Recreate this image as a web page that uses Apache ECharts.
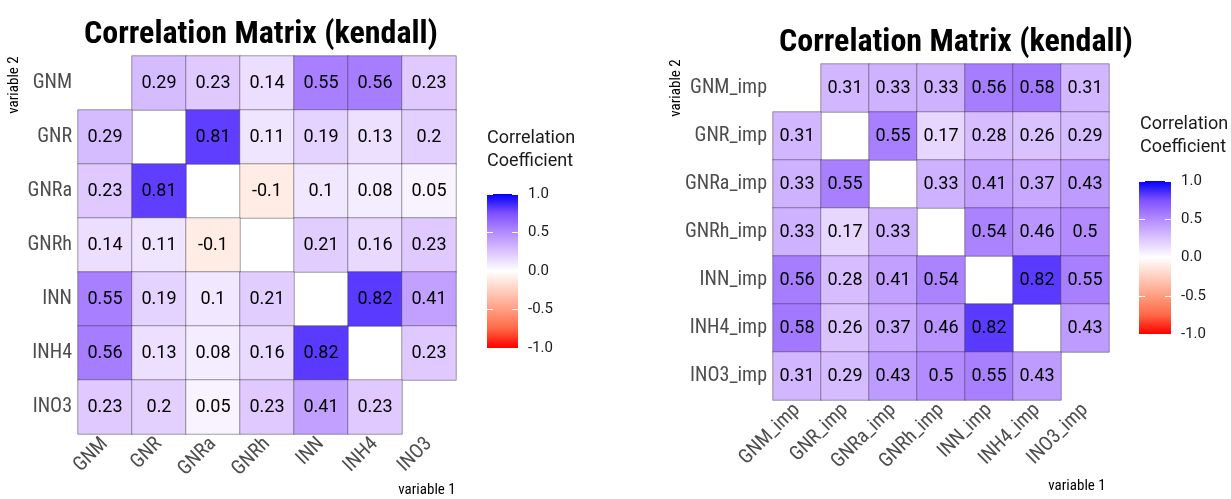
<!DOCTYPE html>
<html>
<head>
<meta charset="utf-8">
<script src="https://cdn.jsdelivr.net/npm/echarts@6/dist/echarts.min.js"></script>
<style>
html,body{margin:0;padding:0;background:#fff;}
#c{width:1231px;height:499px;}
</style>
</head>
<body>
<div id="c"></div>
<script>
// ---- data ----
const varsLeft = ['GNM','GNR','GNRa','GNRh','INN','INH4','INO3'];
const varsRight = ['GNM_imp','GNR_imp','GNRa_imp','GNRh_imp','INN_imp','INH4_imp','INO3_imp'];
// rows = variable 2 (top to bottom), columns = variable 1 (left to right); null = diagonal
const corrLeft = [
  [null, 0.29, 0.23, 0.14, 0.55, 0.56, 0.23],
  [0.29, null, 0.81, 0.11, 0.19, 0.13, 0.2 ],
  [0.23, 0.81, null, -0.1, 0.1,  0.08, 0.05],
  [0.14, 0.11, -0.1, null, 0.21, 0.16, 0.23],
  [0.55, 0.19, 0.1,  0.21, null, 0.82, 0.41],
  [0.56, 0.13, 0.08, 0.16, 0.82, null, 0.23],
  [0.23, 0.2,  0.05, 0.23, 0.41, 0.23, null]
];
const corrRight = [
  [null, 0.31, 0.33, 0.33, 0.56, 0.58, 0.31],
  [0.31, null, 0.55, 0.17, 0.28, 0.26, 0.29],
  [0.33, 0.55, null, 0.33, 0.41, 0.37, 0.43],
  [0.33, 0.17, 0.33, null, 0.54, 0.46, 0.5 ],
  [0.56, 0.28, 0.41, 0.54, null, 0.82, 0.55],
  [0.58, 0.26, 0.37, 0.46, 0.82, null, 0.43],
  [0.31, 0.29, 0.43, 0.5,  0.55, 0.43, null]
];
const legendTicks = [-1, -0.5, 0, 0.5, 1];
const titleText = 'Correlation Matrix (kendall)';
const legendTitle = 'Correlation\nCoefficient';

// ---- style ----
const scaleColors = ['#ff0000','#ff6846','#ff9e81','#ffcfbf','#ffffff','#dcc4ff','#b38bff','#7e51ff','#0000ff'];
const condFont = "'Liberation Sans Narrow', 'Roboto Condensed', 'DejaVu Sans Condensed', Roboto, sans-serif";
const axisGrey = '#4d4d4d';

function toTriples(mat){
  const out = [];
  mat.forEach((row, r) => row.forEach((v, c) => { if (v !== null) out.push([c, r, v]); }));
  return out;
}

const chart = echarts.init(document.getElementById('c'), null, {renderer:'canvas'});

const panels = [
  {vars: varsLeft, mat: corrLeft, grid:{left:78, top:56, width:378, height:378},
   title:{x:256, y:30}, v2:{x:14, y:85}, v1:{x:427, y:490},
   lt:{x:487, y:127}, bar:{left:487, top:194, width:31, height:154}},
  {vars: varsRight, mat: corrRight, grid:{left:773, top:64, width:336, height:336},
   title:{x:951, y:38}, v2:{x:676, y:88}, v1:{x:1077, y:486},
   lt:{x:1140, y:113}, bar:{left:1139, top:181, width:32, height:153}}
];

const option = {
  animation:false,
  backgroundColor:'#fff',
  title: [], grid: [], xAxis: [], yAxis: [], series: [], visualMap: [], graphic: []
};

panels.forEach((p, i) => {
  option.title.push({
    text: titleText, left: p.title.x, top: p.title.y, textAlign:'center', textVerticalAlign:'middle',
    textStyle:{fontFamily:condFont, fontWeight:'bold', fontSize:32, color:'#000'}
  });
  option.grid.push(Object.assign({containLabel:false}, p.grid));
  option.xAxis.push({
    type:'category', data:p.vars, gridIndex: i*2,
    axisLine:{show:false}, axisTick:{show:false}, splitLine:{show:false},
    axisLabel:{rotate:45, margin:7, fontSize:20, color:axisGrey, fontFamily:condFont, interval:0}
  });
  option.yAxis.push({
    type:'category', data:p.vars, inverse:true, gridIndex: i*2,
    axisLine:{show:false}, axisTick:{show:false}, splitLine:{show:false},
    axisLabel:{margin:6, fontSize:20, color:axisGrey, fontFamily:condFont, interval:0}
  });
  // colorbar grid
  option.grid.push(Object.assign({}, p.bar));
  option.xAxis.push({type:'category', data:['c'], gridIndex:i*2+1, show:false});
  option.yAxis.push({
    type:'value', gridIndex:i*2+1, min:-1, max:1, interval:0.5, position:'right', z:10,
    axisLine:{show:false}, splitLine:{show:false},
    axisTick:{show:true, inside:true, length:6, lineStyle:{color:'#fff', width:1}},
    axisLabel:{margin:10, fontSize:15, color:'#1a1a1a', fontFamily:'Roboto, sans-serif',
      formatter: v => legendTicks.includes(v) ? v.toFixed(1) : ''}
  });
  option.yAxis.push({
    type:'value', gridIndex:i*2+1, min:-1, max:1, interval:0.5, position:'left', z:10,
    axisLine:{show:false}, splitLine:{show:false}, axisLabel:{show:false},
    axisTick:{show:true, inside:true, length:6, lineStyle:{color:'#fff', width:1}}
  });
  option.series.push({
    type:'heatmap', data: toTriples(p.mat),
    itemStyle:{borderColor:'rgba(50,50,50,0.45)', borderWidth:1},
    label:{show:true, formatter: q => String(q.value[2]), color:'#000', fontSize:18,
      fontFamily:"Roboto, 'Liberation Sans', Arial, sans-serif"},
    emphasis:{disabled:true}
  });
  option.visualMap.push({
    type:'continuous', show:false, min:-1, max:1, seriesIndex:i, dimension:2,
    inRange:{color:scaleColors}
  });
  const stops = scaleColors.slice().reverse().map((c, k, a) => ({offset:k/(a.length-1), color:c}));
  option.graphic.push({
    type:'rect', left:p.bar.left, top:p.bar.top, z:1,
    shape:{width:p.bar.width, height:p.bar.height},
    style:{fill:new echarts.graphic.LinearGradient(0,0,0,1,stops)}
  });
  option.graphic.push({
    type:'text', left:p.lt.x, top:p.lt.y,
    style:{text:legendTitle, font:"18px Roboto, sans-serif", fill:'#1a1a1a', lineHeight:23}
  });
  option.graphic.push({
    type:'text', x:p.v2.x, y:p.v2.y, rotation:Math.PI/2,
    style:{text:'variable 2', font:"15px "+condFont, fill:'#000', align:'center', verticalAlign:'middle'}
  });
  option.graphic.push({
    type:'text', x:p.v1.x, y:p.v1.y,
    style:{text:'variable 1', font:"15px "+condFont, fill:'#000', align:'center', verticalAlign:'middle'}
  });
});

// left grid uses yAxis 0, its colorbar 1,2; right grid uses yAxis 3, its colorbar 4,5
option.series.forEach((s, i) => { s.yAxisIndex = i*3; s.xAxisIndex = i*2; });
chart.setOption(option);
</script>
</body>
</html>
